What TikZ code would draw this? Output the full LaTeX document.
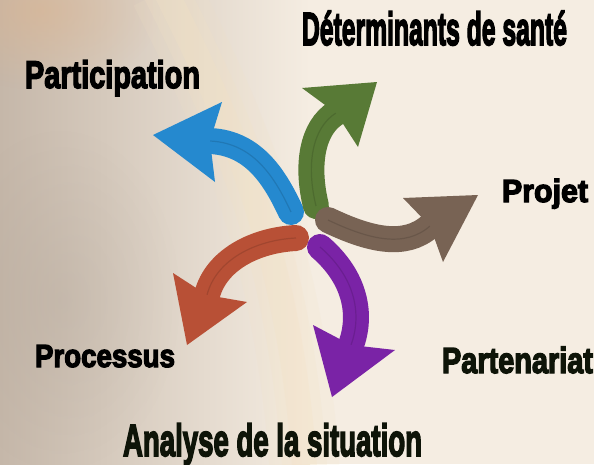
\documentclass[tikz,border=0pt]{standalone}
\usepackage{fontspec}
\setmainfont{Liberation Sans}[BoldFeatures={FakeBold=4}]
\usepackage{graphicx}
\usetikzlibrary{fadings}
\definecolor{bgcream}{HTML}{F5EDE2}
\definecolor{bgleft}{HTML}{C5B7A9}
\definecolor{bgorange}{HTML}{DDB48E}
\definecolor{bgband}{HTML}{F3E2C4}
\definecolor{cblue}{HTML}{2589CF}
\definecolor{cgreen}{HTML}{587A36}
\definecolor{cbrown}{HTML}{786354}
\definecolor{cred}{HTML}{B85036}
\definecolor{cpurple}{HTML}{7A23A6}
\definecolor{txtdark}{HTML}{0E1408}
\tikzfading[name=softspot, inner color=transparent!0, outer color=transparent!100]
\newcommand\mylabel[3]{{\bfseries\resizebox{#1}{#2}{\raisebox{0pt}[\fontcharht\font`D][0pt]{#3}}}}
\tikzset{
  shaft/.style={line width=26pt, line cap=round},
  vein/.style={line width=1.2pt, black, opacity=0.12},
  lbl/.style={anchor=base west, inner sep=0pt, outer sep=0pt},
}
\begin{document}
\begin{tikzpicture}[x=1pt,y=-1pt]
\useasboundingbox (0,0) rectangle (594,464);
% background
\fill[bgcream] (0,0) rectangle (594,464);
\shade[left color=bgleft, right color=bgcream] (0,0) rectangle (310,464);
\fill[bgorange, opacity=0.55, path fading=softspot] (40,10) ellipse [x radius=120, y radius=80];
\fill[bgleft!85!black, opacity=0.25, path fading=softspot] (60,300) ellipse [x radius=120, y radius=170];
\foreach \w/\o in {70/0.15,45/0.2,25/0.25}{
  \draw[bgband, line width=\w pt, opacity=\o] (165,-10) .. controls (230,120) and (290,250) .. (305,474);
}
% arrows: named coordinates
\coordinate (bT) at (291,212); \coordinate (bN) at (210,141);
\coordinate (bTip) at (153,135); \coordinate (bB1) at (222,102); \coordinate (bB2) at (215,182);
\coordinate (gT) at (316,206); \coordinate (gN) at (336,113);
\coordinate (gTip) at (377,82); \coordinate (gB1) at (302,88); \coordinate (gB2) at (358,147);
\coordinate (wT) at (328,220); \coordinate (wN) at (430,226);
\coordinate (wTip) at (478,195); \coordinate (wB1) at (403,198); \coordinate (wB2) at (443,262);
\coordinate (rT) at (296,238); \coordinate (rN) at (207,295);
\coordinate (rTip) at (187,345); \coordinate (rB1) at (173,273); \coordinate (rB2) at (247,302);
\coordinate (pT) at (320,247); \coordinate (pN) at (351,345);
\coordinate (pTip) at (332,397); \coordinate (pB1) at (313,325); \coordinate (pB2) at (395,350);
% blue
\draw[shaft, cblue] (bT) .. controls (276,180) and (255,143) .. (bN);
\draw[vein] (bT) .. controls (276,180) and (255,143) .. (bN);
\fill[cblue] (bTip) -- (bB1) -- (bN) -- (bB2) -- cycle;
% green
\draw[shaft, cgreen] (gT) .. controls (306,165) and (312,128) .. (gN);
\draw[vein] (gT) .. controls (306,165) and (312,128) .. (gN);
\fill[cgreen] (gTip) -- (gB1) -- (gN) -- (gB2) -- cycle;
% brown
\draw[shaft, cbrown] (wT) .. controls (370,240) and (405,248) .. (wN);
\draw[vein] (wT) .. controls (370,240) and (405,248) .. (wN);
\fill[cbrown] (wTip) -- (wB1) -- (wN) -- (wB2) -- cycle;
% red
\draw[shaft, cred] (rT) .. controls (255,240) and (216,260) .. (rN);
\draw[vein] (rT) .. controls (255,240) and (216,260) .. (rN);
\fill[cred] (rTip) -- (rB1) -- (rN) -- (rB2) -- cycle;
% purple
\draw[shaft, cpurple] (pT) .. controls (356,278) and (362,315) .. (pN);
\draw[vein] (pT) .. controls (356,278) and (362,315) .. (pN);
\fill[cpurple] (pTip) -- (pB1) -- (pN) -- (pB2) -- cycle;
% labels
\node[lbl] (lDet) at (302,45) {\mylabel{265pt}{32pt}{Déterminants de santé}};
\node[lbl] (lPart) at (25,88) {\mylabel{175pt}{26.5pt}{Participation}};
\node[lbl] (lProj) at (502,202) {\mylabel{86pt}{22pt}{Projet}};
\node[lbl] (lProc) at (35,367) {\mylabel{140pt}{22pt}{Processus}};
\node[lbl, text=txtdark] (lPartn) at (442,373) {\mylabel{151pt}{25pt}{Partenariat}};
\node[lbl, text=txtdark] (lAna) at (123,456) {\mylabel{299pt}{31pt}{Analyse de la situation}};
\end{tikzpicture}
\end{document}
